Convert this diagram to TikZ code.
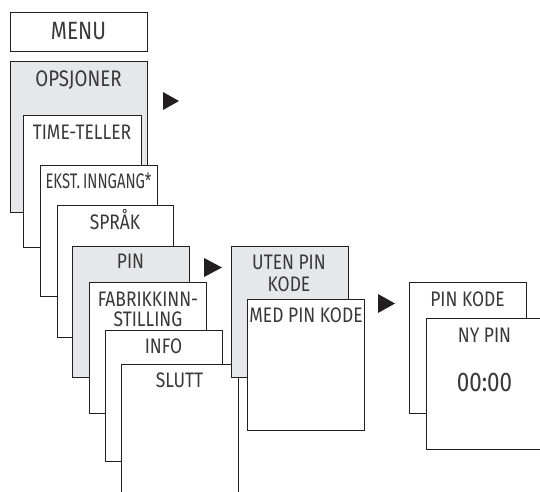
\documentclass[tikz,border=0pt]{standalone}
\usepackage{fontspec}
\setmainfont{Fira Sans}[FakeStretch=0.83]
\usetikzlibrary{positioning}
\definecolor{panelgray}{HTML}{E6E7E8}
\definecolor{ink}{HTML}{231F20}
\definecolor{textink}{HTML}{3A3839}

\begin{document}
\begin{tikzpicture}[x=1pt,y=-1pt,
  panel/.style={draw=ink,line width=0.8pt,fill=white,anchor=north west,inner sep=0pt,outer sep=0pt,minimum width=117pt,minimum height=131pt},
  shaded/.style={panel,fill=panelgray},
  txt/.style={anchor=base,inner sep=0pt,text=textink,font=\fontsize{21}{24}\selectfont}]
\useasboundingbox (0,0) rectangle (540,491);
\clip (0,0) rectangle (540,491);

% left column
\node[panel,minimum width=137pt,minimum height=39pt] (menu) at (10,12) {};
\node[txt,font=\fontsize{25}{28}\selectfont] (menu-t) at (78.5,39.3) {MENU};
\node[shaded,minimum width=137pt,minimum height=151pt] (opsjoner) at (10,61) {};
\node[txt,font=\fontsize{22.5}{26}\selectfont] (opsjoner-t) at (78.5,86) {OPSJONER};
\node[panel,minimum width=118pt,minimum height=132pt] (timeteller) at (23,115) {};
\node[txt] (timeteller-t) at (82,139) {TIME-TELLER};
\node[panel] (ekst) at (40,165) {};
\node[txt] (ekst-t) at (98.5,188) {\scalebox{0.85}[1]{EKST.\,INNGANG*}};
\node[panel,minimum width=116pt,minimum height=132pt] (sprak) at (57,205) {};
\node[txt] (sprak-t) at (115,229) {SPRÅK};
\node[shaded] (pin) at (72,246) {};
\node[txt] (pin-t) at (130.5,268) {PIN};
\node[panel] (fabrikk) at (89,282) {};
\node[txt] (fabrikk-t1) at (148,306) {FABRIKKINN-};
\node[txt] (fabrikk-t2) at (148,326) {STILLING};
\node[panel] (info) at (105,330) {};
\node[txt] (info-t) at (163.5,353) {INFO};
\node[panel,minimum height=150pt] (slutt) at (121,364) {};
\node[txt] (slutt-t) at (179.5,387) {SLUTT};

% middle column
\node[shaded] (uten) at (231,246) {};
\node[txt] (uten-t1) at (289,269) {UTEN PIN};
\node[txt] (uten-t2) at (289,291.7) {KODE};
\node[panel] (med) at (247,299) {};
\node[txt] (med-t) at (306,322) {MED PIN KODE};

% right column
\node[panel] (pinkode) at (409,282) {};
\node[txt] (pinkode-t) at (467.5,306) {PIN KODE};
\node[panel] (nypin) at (426,318) {};
\node[txt] (nypin-t) at (484.5,342) {NY PIN};
\node[txt,font=\fontsize{27}{30}\selectfont] (nypin-v) at (484.5,391) {00:00};

% pointers
\fill[ink] (163,92) -- (179,101) -- (163,110) -- cycle;
\fill[ink] (204,258) -- (222,267.5) -- (204,277) -- cycle;
\fill[ink] (378,294) -- (395,303.5) -- (378,313) -- cycle;
\end{tikzpicture}
\end{document}
